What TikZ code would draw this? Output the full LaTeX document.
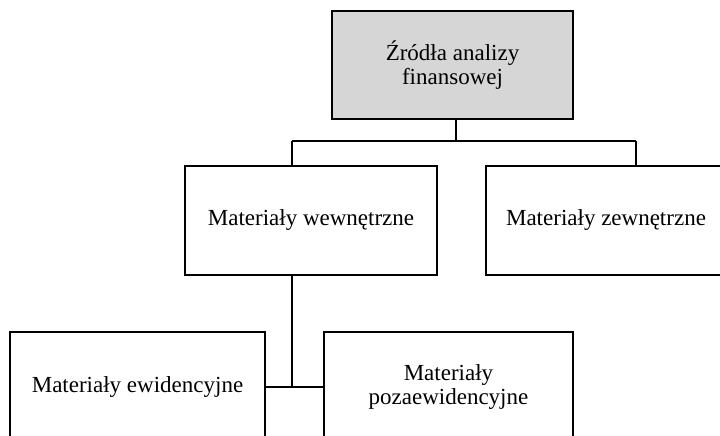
\documentclass[tikz,border=0pt]{standalone}
\usepackage{fontspec}
\setmainfont{Liberation Serif}
\definecolor{headfill}{RGB}{214,214,214}
\tikzset{
  box/.style={draw=black, line width=1.4pt, rectangle, inner sep=0pt,
    align=center, font=\fontsize{23}{24}\selectfont},
  link/.style={draw=black, line width=2pt},
}
\begin{document}
\begin{tikzpicture}[x=1pt, y=-1pt]
  \useasboundingbox (0,0) rectangle (720,436);
  \clip (0,0) rectangle (720,436);
  \fill[white] (0,0) rectangle (720,436);

  % boxes
  \node[box, fill=headfill, minimum width=241pt, minimum height=108pt]
    (src) at (452.5,65) {Źródła analizy\\finansowej};
  \node[box, minimum width=252pt, minimum height=109pt]
    (wew) at (311,220.5) {Materiały wewnętrzne};
  \node[box, minimum width=240pt, minimum height=109pt]
    (zew) at (606,220.5) {Materiały zewnętrzne};
  \node[box, minimum width=255pt, minimum height=109pt]
    (ewi) at (137.5,386.5) {Materiały ewidencyjne};
  \node[box, minimum width=249pt, minimum height=109pt]
    (poz) at (448.5,386.5) {Materiały\\pozaewidencyjne};

  % bus points
  \coordinate (hub)  at (456,141);
  \coordinate (busL) at (292,141);
  \coordinate (busR) at (636,141);
  \coordinate (drop) at (292,386.5);

  % connectors
  \draw[link] (src.south -| hub) -- (hub);
  \draw[link] (busL) -- (busR);
  \draw[link] (busL) -- (busL |- wew.north);
  \draw[link] (busR) -- (busR |- zew.north);
  \draw[link] (wew.south -| drop) -- (drop);
  \draw[link] (ewi.east) -- (poz.west);
\end{tikzpicture}
\end{document}
